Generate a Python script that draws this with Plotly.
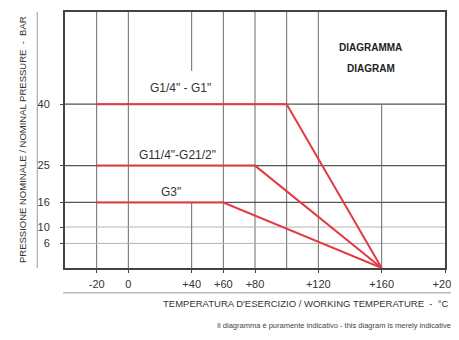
import plotly.graph_objects as go

# pressure / temperature curves (°C, bar)
temp_g1 = [-20, 100, 160]
press_g1 = [40, 40, 0]
temp_g2 = [-20, 80, 160]
press_g2 = [25, 25, 0]
temp_g3 = [-20, 60, 160]
press_g3 = [16, 16, 0]

series_names = ['G1/4" - G1"', 'G11/4"-G21/2"', 'G3"']
label_x = [33, 31, 27]
label_y = [44, 27.5, 18.5]

x_ticks = [-20, 0, 40, 60, 80, 120, 160, 200]
x_tick_text = ['-20', '0', '+40', '+60', '+80', '+120', '+160', '+200']
y_ticks = [6, 10, 16, 25, 40]

grid_x_full = [-20, 0, 60, 80, 100, 120]
grid_y_major = [16, 25, 40]
grid_y_minor = [6, 10]

FONT = "Liberation Sans, Arial, sans-serif"
RED = "#e53a44"

fig = go.Figure()

for t, p, n in zip([temp_g1, temp_g2, temp_g3], [press_g1, press_g2, press_g3], series_names):
    fig.add_trace(go.Scatter(x=t, y=p, mode='lines', name=n,
                             line=dict(color=RED, width=2), showlegend=False))

shapes = []
for gx in grid_x_full:
    shapes.append(dict(type='line', xref='x', yref='paper', x0=gx, x1=gx, y0=0, y1=1,
                       line=dict(color='#6a6a6a', width=1), layer='below'))
# 40 line is broken by the labels, 160 line only below 40 bar
shapes.append(dict(type='line', xref='x', yref='paper', x0=40, x1=40, y0=0.77, y1=1,
                   line=dict(color='#6a6a6a', width=1), layer='below'))
shapes.append(dict(type='line', xref='x', yref='y', x0=40, x1=40, y0=0, y1=press_g3[0],
                   line=dict(color='#6a6a6a', width=1), layer='below'))
shapes.append(dict(type='line', xref='x', yref='y', x0=160, x1=160, y0=0, y1=press_g1[0],
                   line=dict(color='#6a6a6a', width=1), layer='below'))
for gy in grid_y_major:
    shapes.append(dict(type='line', xref='paper', yref='y', x0=0, x1=1, y0=gy, y1=gy,
                       line=dict(color='#555555', width=1.3), layer='below'))
for gy in grid_y_minor:
    shapes.append(dict(type='line', xref='paper', yref='y', x0=0, x1=1, y0=gy, y1=gy,
                       line=dict(color='#b5b5b5', width=1), layer='below'))
# decorative rules next to axis titles
shapes.append(dict(type='line', xref='paper', yref='paper', x0=-0.073, x1=-0.073, y0=0, y1=1,
                   line=dict(color='#999999', width=1)))
shapes.append(dict(type='line', xref='paper', yref='paper', x0=-0.005, x1=1.04, y0=-0.097, y1=-0.097,
                   line=dict(color='#999999', width=1)))

annotations = []
for n, lx, ly in zip(series_names, label_x, label_y):
    annotations.append(dict(x=lx, y=ly, xref='x', yref='y', text=n, showarrow=False,
                            font=dict(family=FONT, size=12, color='#333333')))
annotations.append(dict(x=153, y=53.8, xref='x', yref='y', text='<b>DIAGRAMMA</b>',
                        showarrow=False, font=dict(family=FONT, size=10, color='#222222')))
annotations.append(dict(x=153, y=48.8, xref='x', yref='y', text='<b>DIAGRAM</b>',
                        showarrow=False, font=dict(family=FONT, size=10, color='#222222')))
annotations.append(dict(x=-0.113, y=0.5, xref='paper', yref='paper', textangle=-90,
                        xanchor='center', yanchor='middle',
                        text='PRESSIONE NOMINALE / NOMINAL PRESSURE  -  BAR', showarrow=False,
                        font=dict(family=FONT, size=9.5, color='#333333')))
annotations.append(dict(x=1.012, y=-0.137, xref='paper', yref='paper', xanchor='right', yanchor='middle',
                        text='TEMPERATURA D\'ESERCIZIO / WORKING TEMPERATURE  -  °C', showarrow=False,
                        font=dict(family=FONT, size=9.5, color='#333333')))
annotations.append(dict(x=1.02, y=-0.225, xref='paper', yref='paper', xanchor='right', yanchor='middle',
                        text='Il diagramma è puramente indicativo - this diagram is merely indicative',
                        showarrow=False, font=dict(family=FONT, size=7.5, color='#444444')))

# the page adds an 8 px body margin, so the figure is 8 px smaller each way
fig.update_layout(
    width=451, height=332,
    margin=dict(l=57, r=12, t=2, b=72),
    paper_bgcolor='white', plot_bgcolor='white',
    font=dict(family=FONT, size=11, color='#333333'),
    shapes=shapes, annotations=annotations,
    xaxis=dict(range=[-40, 200], tickvals=x_ticks, ticktext=x_tick_text, showgrid=False,
               zeroline=False, showline=True, linecolor='#444444', linewidth=2, mirror=True,
               ticks='outside', ticklen=3, tickcolor='#444444', ticklabelstandoff=2,
               ticklabeloverflow='allow',
               tickfont=dict(family=FONT, size=11, color='#333333')),
    yaxis=dict(range=[0, 62.5], tickvals=y_ticks, showgrid=False, zeroline=False,
               showline=True, linecolor='#444444', linewidth=2, mirror=True,
               ticks='outside', ticklen=3, tickcolor='#444444', ticklabelstandoff=8,
               tickfont=dict(family=FONT, size=11, color='#333333')),
)

fig.write_html("out.html")
